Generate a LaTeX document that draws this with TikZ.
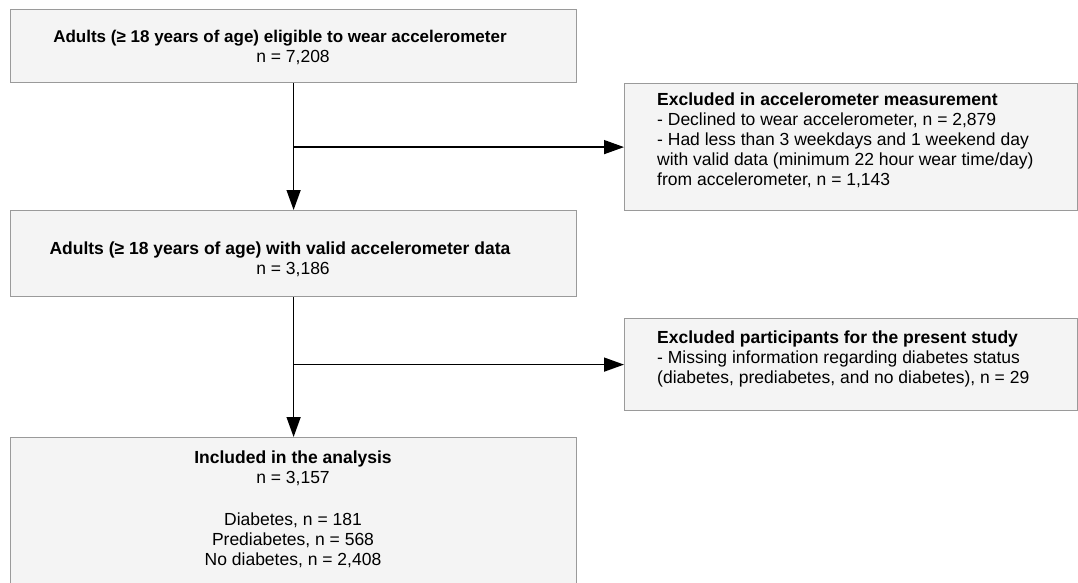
\documentclass[tikz,border=0pt]{standalone}
\usepackage{fontspec}
\setmainfont{Liberation Sans}
\usetikzlibrary{arrows.meta}
\definecolor{boxfill}{HTML}{F4F4F4}
\definecolor{boxline}{HTML}{9A9A9A}
\newcommand{\leftpad}{\rule{26pt}{0pt}}
\begin{document}
\begin{tikzpicture}[x=1pt,y=-1pt,
  box/.style={draw=boxline,fill=boxfill,line width=1.2pt,inner sep=0pt,anchor=north west},
  txt/.style={font=\fontsize{17.5}{20}\selectfont,inner sep=0pt},
  arr/.style={line width=1.5pt,-{Triangle[width=14pt,length=20pt]}},
  ln/.style={line width=1.5pt}]
\useasboundingbox (0,0) rectangle (1078,583);
\clip (0,0) rectangle (1078,583);
\node[box,minimum width=566pt,minimum height=73pt] (b1) at (10,9) {};
\node[txt,align=center] (t1) at (293,47) {{\fontsize{17}{20}\selectfont\textbf{Adults (≥ 18 years of age) eligible to wear accelerometer}}\leftpad\\n = 7,208};
\node[box,minimum width=453pt,minimum height=127pt] (r1) at (624,83) {};
\node[txt,align=left,anchor=north west] (tr1) at (657,93) {\textbf{Excluded in accelerometer measurement}\\- Declined to wear accelerometer, n = 2,879\\- Had less than 3 weekdays and 1 weekend day\\with valid data (minimum 22 hour wear time/day)\\from accelerometer, n = 1,143};
\node[box,minimum width=566pt,minimum height=86pt] (b2) at (10,210) {};
\node[txt,align=center] (t2) at (293,259) {\textbf{Adults (≥ 18 years of age) with valid accelerometer data}\leftpad\\n = 3,186};
\node[box,minimum width=453pt,minimum height=92pt] (r2) at (624,318) {};
\node[txt,align=left,anchor=north west] (tr2) at (657,331) {\textbf{Excluded participants for the present study}\\- Missing information regarding diabetes status\\(diabetes, prediabetes, and no diabetes), n = 29};
\node[box,minimum width=566pt,minimum height=160pt] (b3) at (10,437) {};
\node[txt,align=center,anchor=north] (t3) at (293,451) {\textbf{Included in the analysis}\\n = 3,157\\[22pt]Diabetes, n = 181\\Prediabetes, n = 568\\No diabetes, n = 2,408};
\draw[arr] (b1.south) -- (b2.north);
\draw[arr] (b1.south |- r1.west) -- (r1.west);
\draw[arr] (b2.south) -- (b3.north);
\draw[arr] (b2.south |- r2.west) -- (r2.west);
\end{tikzpicture}
\end{document}
